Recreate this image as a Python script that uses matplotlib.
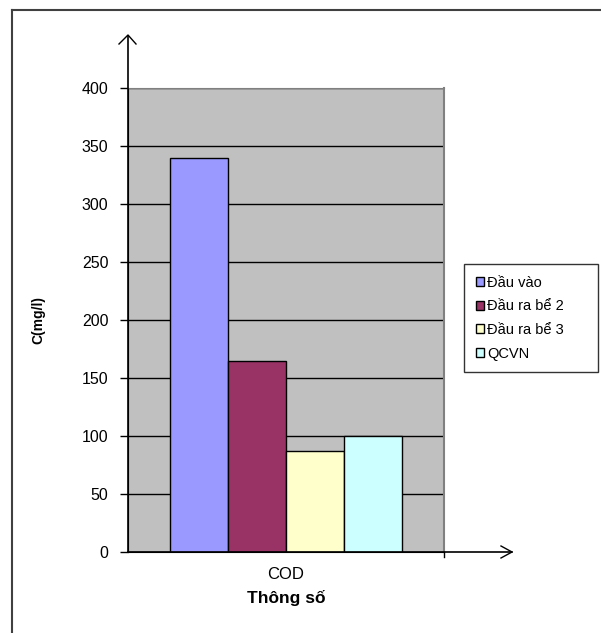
import matplotlib
matplotlib.use("Agg")
import matplotlib.pyplot as plt
from matplotlib.lines import Line2D

plt.rcParams['font.family'] = ['Liberation Sans', 'DejaVu Sans']

# data
category = ['COD']
series = ['Đầu vào', 'Đầu ra bể 2', 'Đầu ra bể 3', 'QCVN']
values = [340, 165, 87, 100]
colors = ['#9999FF', '#993366', '#FFFFCC', '#CCFFFF']
yticks = [0, 50, 100, 150, 200, 250, 300, 350, 400]

W, H = 601, 633
fig = plt.figure(figsize=(W / 100, H / 100), dpi=100)
ax = fig.add_axes([128 / W, (H - 552) / H, (444 - 128) / W, (552 - 88) / H])
ax.set_facecolor('#C0C0C0')

width = 58 / 316
offsets = [-1.5, -0.5, 0.5, 1.5]
for name, v, c, o in zip(series, values, colors, offsets):
    ax.bar(0 + o * width, v, width=width, color=c, edgecolor='black',
           linewidth=1, label=name, zorder=3)

ax.set_xlim(-0.5, 0.5)
ax.set_ylim(0, 400)
ax.set_yticks(yticks)
ax.set_yticklabels([str(t) for t in yticks], fontsize=11.5)
ax.set_xticks([0])
ax.set_xticklabels(category, fontsize=12)
ax.tick_params(axis='x', length=0, pad=10.5)
ax.tick_params(axis='y', length=6, width=1, color='black', pad=8)
ax.yaxis.grid(True, color='black', linewidth=1, zorder=1)
ax.set_axisbelow(True)

ax.spines['top'].set_color('#808080')
ax.spines['right'].set_color('#808080')
ax.spines['left'].set_color('black')
ax.spines['bottom'].set_color('black')
ax.spines['right'].set_linewidth(1.5)

ax.set_xlabel('Thông số', fontsize=12.5, fontweight='bold', labelpad=6)
ax.set_ylabel('C(mg/l)', fontsize=10, fontweight='bold', labelpad=26)

# axis arrows
fig.add_artist(Line2D([128 / W, 128 / W], [(H - 552) / H, (H - 36) / H],
                      color='black', linewidth=1.2))
fig.add_artist(Line2D([119 / W, 128 / W, 136 / W],
                      [(H - 44) / H, (H - 35) / H, (H - 44) / H],
                      color='black', linewidth=1))
fig.add_artist(Line2D([128 / W, 512 / W], [(H - 552) / H, (H - 552) / H],
                      color='black', linewidth=1.2))
fig.add_artist(Line2D([501 / W, 512 / W, 501 / W],
                      [(H - 546) / H, (H - 552) / H, (H - 558) / H],
                      color='black', linewidth=1))
# small tick below the right edge of the plot area
fig.add_artist(Line2D([444 / W, 444 / W], [(H - 552) / H, (H - 557) / H],
                      color='black', linewidth=1))

leg = fig.legend(loc='upper left',
                 bbox_to_anchor=(464 / W, (H - 370) / H, 134 / W, 106 / H),
                 mode='expand', fontsize=10.5, frameon=True, fancybox=False,
                 edgecolor='black', handlelength=0.6, handleheight=0.6,
                 handletextpad=0.2, labelspacing=0.66, borderpad=0.8,
                 borderaxespad=0)
leg.get_frame().set_linewidth(1)

# outer frame
fig.add_artist(Line2D([12 / W, 12 / W], [0, (H - 10) / H], color='#404040', linewidth=1.5))
fig.add_artist(Line2D([12 / W, 1], [(H - 10) / H, (H - 10) / H], color='#404040', linewidth=1.5))

fig.savefig('out.png', dpi=100)
